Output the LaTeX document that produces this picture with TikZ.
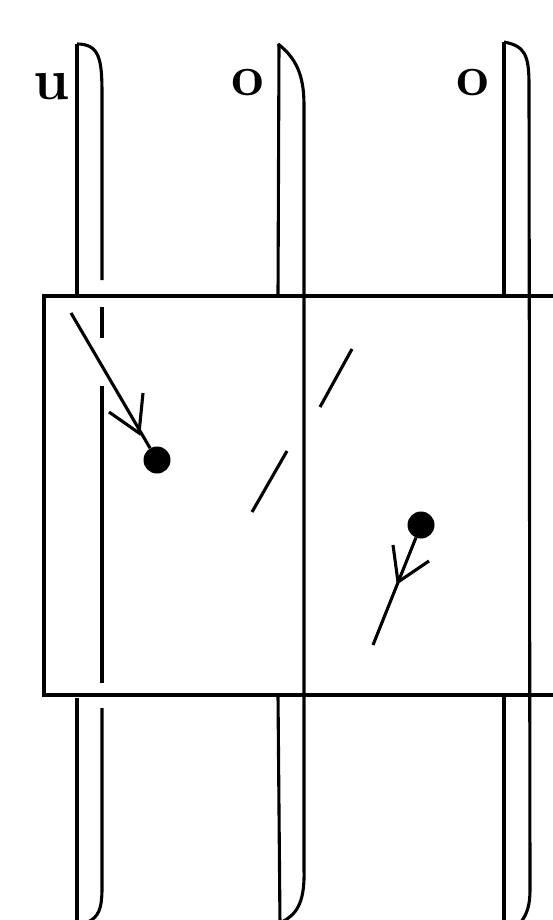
\documentclass[tikz,border=0pt]{standalone}
\begin{document}
\begin{tikzpicture}[x=1pt,y=-1pt,
  ln/.style={line width=3.1pt,line cap=butt},
  dotnode/.style={circle,fill=black,inner sep=0pt,minimum size=27pt},
  lab/.style={font=\fontsize{58}{58}\selectfont\bfseries,inner sep=0pt,anchor=base}]
\useasboundingbox (0,0) rectangle (552,920);
% labels
\node[lab] (lu) at (52,100) {u};
\node[lab] (lo1) at (248,96) {o};
\node[lab] (lo2) at (473,96) {o};
% rectangle (open to the right)
\draw[ln] (560,296) -- (44,296) -- (44,695) -- (560,695);
% strand 1
\draw[ln] (77,44) .. controls (100,44) and (102,60) .. (102,95) -- (102,280);
\draw[ln] (102,307) -- (102,338);
\draw[ln] (102,386) -- (102,683);
\draw[ln] (102,708) -- (102,888) .. controls (102,910) and (98,917) .. (88,922);
\draw[ln] (77,44) -- (77,296);
\draw[ln] (77,698) -- (77,925);
% strand 2
\draw[ln] (278,44) .. controls (296,58) and (304,75) .. (304,105) -- (304,870) .. controls (305,905) and (295,915) .. (282,922);
\draw[ln] (279,44) -- (278,296);
\draw[ln] (278,695) -- (280,925);
% strand 3
\draw[ln] (504,42) .. controls (525,46) and (529,55) .. (529,85) -- (530,890) .. controls (530,905) and (527,914) .. (521,922);
\draw[ln] (504,42) -- (504,296);
\draw[ln] (504,695) -- (504,925);
% short segments
\draw[ln] (252,512) -- (287,451);
\draw[ln] (320,407) -- (352,349);
% dots and arrows
\node[dotnode] (d1) at (157,460) {};
\node[dotnode] (d2) at (421,525) {};
\coordinate (s1) at (71,313);
\coordinate (s2) at (373,645);
\draw[ln] (s1) -- (d1);
\draw[ln] (d2) -- (s2);
\coordinate (t1) at (139,433);
\draw[ln,line join=miter] (109,412) -- (t1) -- (143,393);
\coordinate (t2) at (398,582);
\draw[ln,line join=miter] (393,545) -- (t2) -- (429,561);
\end{tikzpicture}
\end{document}
